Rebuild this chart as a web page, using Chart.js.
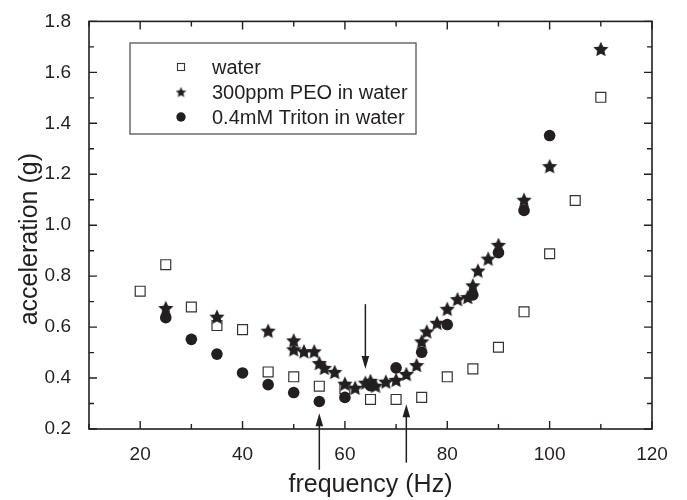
<!DOCTYPE html>
<html><head><meta charset="utf-8">
<script src="https://cdn.jsdelivr.net/npm/chart.js@4/dist/chart.umd.min.js"></script>
<style>html,body{margin:0;padding:0;background:#fff}</style>
</head><body>
<canvas id="c" width="687" height="500"></canvas>
<script>
// ---- data ----
const waterX  = [20,25,30,35,40,45,50,55,60,65,70,75,80,85,90,95,100,105,110];
const waterY  = [0.741,0.845,0.679,0.606,0.590,0.424,0.405,0.368,0.358,0.316,0.316,0.324,0.405,0.436,0.521,0.660,0.888,1.097,1.502];
const peoX    = [25,35,45,50,50,52,54,55,56,58,60,62,64,65,66,68,70,72,74,75,76,78,80,82,84,85,86,88,90,95,100,110];
const peoY    = [0.675,0.641,0.586,0.548,0.513,0.505,0.505,0.459,0.440,0.424,0.378,0.362,0.382,0.389,0.370,0.386,0.393,0.416,0.451,0.544,0.583,0.617,0.672,0.710,0.718,0.764,0.822,0.869,0.923,1.100,1.232,1.692];
const tritonX = [25,30,35,40,45,50,55,60,65,70,75,80,85,90,95,100];
const tritonY = [0.637,0.552,0.494,0.420,0.374,0.343,0.308,0.324,0.370,0.440,0.501,0.610,0.726,0.892,1.058,1.352];
const seriesLabels = ['water','300ppm PEO in water','0.4mM Triton in water'];
const xTitle = 'frequency (Hz)';
const yTitle = 'acceleration (g)';
const xTicks = [20,40,60,80,100,120];
const xMinorTicks = [10,30,50,70,90,110];
const yTicks = [0.2,0.4,0.6,0.8,1.0,1.2,1.4,1.6,1.8];
const yMinorTicks = [0.3,0.5,0.7,0.9,1.1,1.3,1.5,1.7];
// annotation arrows (data units): x, start y, tip y
const arrowX    = [64, 55, 72];
const arrowFrom = [0.690, 0.040, 0.068];
const arrowTo   = [0.436, 0.262, 0.297];

const INK = '#231f20';
const FONT = '"Liberation Sans", Arial, Helvetica, sans-serif';

function makeStar(size, color){
  const c = document.createElement('canvas'); c.width = c.height = size;
  const g = c.getContext('2d'); const cx = size/2, cy = size/2 + size*0.05, R = size/2, r = R*0.48;
  g.beginPath();
  for(let i=0;i<10;i++){ const a = -Math.PI/2 + i*Math.PI/5; const rad = (i%2)? r : R; g.lineTo(cx+rad*Math.cos(a), cy+rad*Math.sin(a)); }
  g.closePath(); g.fillStyle = color; g.fill(); return c;
}
const starBig = makeStar(16, INK);
const starSmall = makeStar(11, INK);

const pts = (xs, ys) => xs.map((x,i)=>({x, y: ys[i]}));

const bgPlugin = { id:'bg', beforeDraw(chart){ const c = chart.ctx; c.save(); c.fillStyle='#fff'; c.fillRect(0,0,chart.width,chart.height); c.restore(); } };

const framePlugin = {
  id:'frame',
  afterDatasetsDraw(chart){
    const {ctx, chartArea:a, scales:{x, y}} = chart;
    ctx.save();
    ctx.strokeStyle = INK; ctx.lineWidth = 1.6;
    ctx.strokeRect(a.left, a.top, a.right-a.left, a.bottom-a.top);
    ctx.lineWidth = 1.4;
    ctx.beginPath();
    const tx = (v, len) => { const p = x.getPixelForValue(v); ctx.moveTo(p, a.bottom); ctx.lineTo(p, a.bottom-len); ctx.moveTo(p, a.top); ctx.lineTo(p, a.top+len); };
    const ty = (v, len) => { const p = y.getPixelForValue(v); ctx.moveTo(a.left, p); ctx.lineTo(a.left+len, p); ctx.moveTo(a.right, p); ctx.lineTo(a.right-len, p); };
    xTicks.forEach(v=>tx(v,8)); xMinorTicks.forEach(v=>tx(v,5));
    yTicks.forEach(v=>ty(v,8)); yMinorTicks.forEach(v=>ty(v,5));
    ctx.stroke();
    // arrows
    ctx.fillStyle = INK; ctx.lineWidth = 1.5;
    arrowX.forEach((ax,i)=>{
      const px = x.getPixelForValue(ax), p0 = y.getPixelForValue(arrowFrom[i]), p1 = y.getPixelForValue(arrowTo[i]);
      const dir = Math.sign(p1-p0), head = 13, hw = 3.8;
      ctx.beginPath(); ctx.moveTo(px, p0); ctx.lineTo(px, p1 - dir*head*0.8); ctx.stroke();
      ctx.beginPath(); ctx.moveTo(px, p1); ctx.lineTo(px-hw, p1-dir*head); ctx.lineTo(px+hw, p1-dir*head); ctx.closePath(); ctx.fill();
    });
    // y-axis title (placed slightly below the plot centre, as in the source)
    ctx.translate(30, (a.top+a.bottom)/2 + 14);
    ctx.rotate(-Math.PI/2);
    ctx.font = '25px '+FONT; ctx.fillStyle = INK; ctx.textAlign='center'; ctx.textBaseline='middle';
    ctx.fillText(yTitle, 0, 0);
    ctx.restore();
  }
};

const legendPlugin = {
  id:'boxLegend',
  afterDraw(chart){
    const ctx = chart.ctx; const o = {left:130, top:43, right:416, bottom:134, markX:181, textX:212, rows:[67,92,117]};
    ctx.save();
    ctx.fillStyle = '#fff'; ctx.fillRect(o.left, o.top, o.right-o.left, o.bottom-o.top);
    ctx.strokeStyle = '#555'; ctx.lineWidth = 1.3; ctx.strokeRect(o.left, o.top, o.right-o.left, o.bottom-o.top);
    chart.data.datasets.forEach((ds,i)=>{
      const yy = o.rows[i];
      if(i===0){ ctx.fillStyle='#fff'; ctx.strokeStyle='#333'; ctx.lineWidth=1.1; ctx.fillRect(o.markX-3.5, yy-3.5, 7, 7); ctx.strokeRect(o.markX-3.5, yy-3.5, 7, 7); }
      else if(i===1){ ctx.drawImage(starSmall, o.markX-starSmall.width/2, yy-starSmall.height/2); }
      else { ctx.fillStyle=INK; ctx.beginPath(); ctx.arc(o.markX, yy, 4.7, 0, Math.PI*2); ctx.fill(); }
      ctx.fillStyle = INK; ctx.font = '20px '+FONT; ctx.textBaseline='middle'; ctx.textAlign='left';
      ctx.fillText(ds.label, o.textX, yy+1);
    });
    ctx.restore();
  }
};

new Chart(document.getElementById('c'), {
  type:'scatter',
  data:{ datasets:[
    { label: seriesLabels[0], data: pts(waterX, waterY), pointStyle:'rect', pointRadius:7, backgroundColor:'#fff', borderColor:'#333', borderWidth:1.2, order:3 },
    { label: seriesLabels[1], data: pts(peoX, peoY), pointStyle: starBig, pointRadius:8, backgroundColor:INK, borderColor:INK, order:1 },
    { label: seriesLabels[2], data: pts(tritonX, tritonY), pointStyle:'circle', pointRadius:5.8, backgroundColor:INK, borderColor:INK, borderWidth:0, order:2 }
  ]},
  options:{
    responsive:false, animation:false, devicePixelRatio:1,
    layout:{ padding:{ top:15, right:35, left:0, bottom:0 } },
    plugins:{ legend:{display:false}, tooltip:{enabled:false} },
    scales:{
      x:{ type:'linear', min:10, max:120,
        afterBuildTicks: s => { s.ticks = xTicks.map(v=>({value:v})); },
        afterFit: s => { s.height = 71; },
        grid:{display:false}, border:{display:false},
        ticks:{ font:{family:FONT, size:19}, color:INK, padding:6, maxRotation:0, autoSkip:false },
        title:{ display:true, text:xTitle, font:{family:FONT, size:25}, color:INK, padding:{top:0, bottom:0} }
      },
      y:{ type:'linear', min:0.2, max:1.8,
        afterBuildTicks: s => { s.ticks = yTicks.map(v=>({value:v})); },
        afterFit: s => { s.width = 89; },
        grid:{display:false}, border:{display:false},
        ticks:{ font:{family:FONT, size:19}, color:INK, padding:10, autoSkip:false, callback: v => Number(v).toFixed(1) },
        title:{ display:false, text:yTitle }
      }
    }
  },
  plugins:[bgPlugin, framePlugin, legendPlugin]
});
</script>
</body></html>
